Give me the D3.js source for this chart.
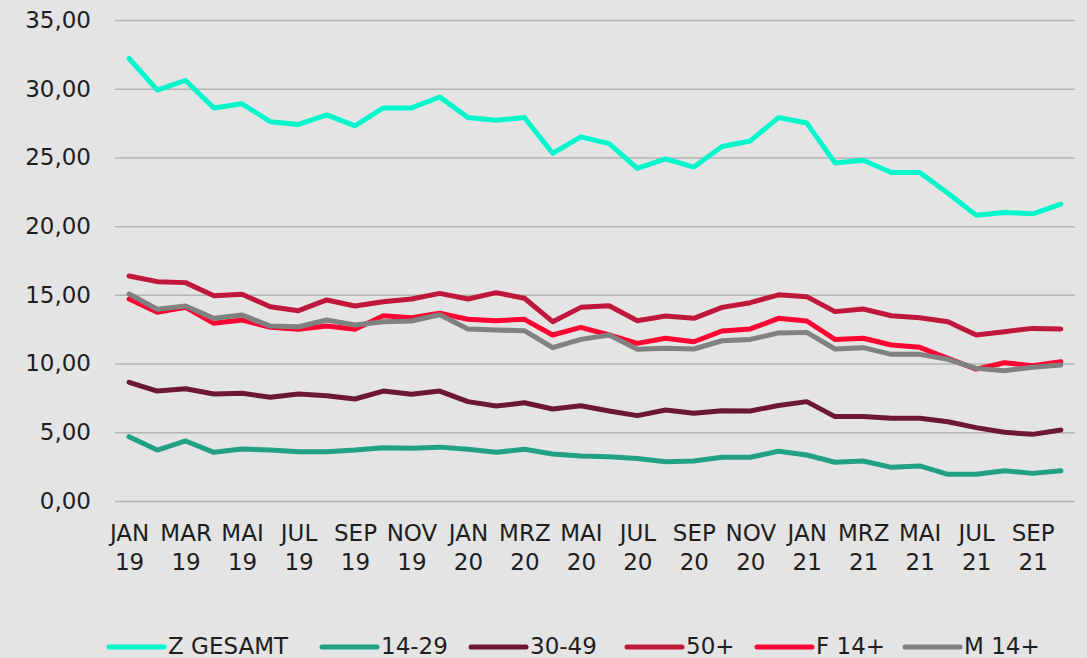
<!DOCTYPE html>
<html>
<head>
<meta charset="utf-8">
<script src="https://cdn.jsdelivr.net/npm/d3@7"></script>
<style>
  html, body { margin: 0; padding: 0; background: #e4e4e4; }
  svg { display: block; }
  svg text { font-family: "DejaVu Sans", sans-serif; }
</style>
</head>
<body>
<div id="chart"></div>
<script>
'use strict';

// Data
var months = ["JAN 19","FEB 19","MAR 19","APR 19","MAI 19","JUN 19","JUL 19","AUG 19","SEP 19","OKT 19","NOV 19","DEZ 19",
              "JAN 20","FEB 20","MRZ 20","APR 20","MAI 20","JUN 20","JUL 20","AUG 20","SEP 20","OKT 20","NOV 20","DEZ 20",
              "JAN 21","FEB 21","MRZ 21","APR 21","MAI 21","JUN 21","JUL 21","AUG 21","SEP 21","OKT 21"];

var seriesNames = ["Z GESAMT", "14-29", "30-49", "50+", "F 14+", "M 14+"];
var seriesColors = ["#03f7cc", "#21a086", "#6d1832", "#c0173c", "#ff0433", "#818181"];

var zGesamt = [32.2, 29.9, 30.6, 28.6, 28.9, 27.6, 27.4, 28.1, 27.3, 28.6, 28.6, 29.4,
               27.9, 27.7, 27.9, 25.3, 26.5, 26.0, 24.2, 24.9, 24.3, 25.8, 26.2, 27.9,
               27.5, 24.6, 24.8, 23.9, 23.9, 22.4, 20.8, 21.0, 20.9, 21.6];
var age1429 = [4.68, 3.71, 4.37, 3.54, 3.78, 3.71, 3.59, 3.59, 3.71, 3.88, 3.83, 3.92,
               3.76, 3.54, 3.76, 3.42, 3.27, 3.22, 3.10, 2.86, 2.91, 3.18, 3.18, 3.62,
               3.35, 2.82, 2.91, 2.45, 2.55, 1.94, 1.94, 2.20, 2.01, 2.20];
var age3049 = [8.64, 8.00, 8.17, 7.79, 7.84, 7.55, 7.79, 7.66, 7.42, 8.00, 7.76, 8.00,
               7.23, 6.91, 7.15, 6.69, 6.93, 6.55, 6.21, 6.62, 6.38, 6.57, 6.55, 6.95,
               7.23, 6.14, 6.14, 6.02, 6.02, 5.77, 5.34, 5.00, 4.85, 5.17];
var age50 =   [16.37, 15.96, 15.89, 14.94, 15.04, 14.14, 13.85, 14.63, 14.19, 14.50, 14.70, 15.11,
               14.70, 15.16, 14.75, 13.05, 14.09, 14.21, 13.12, 13.46, 13.29, 14.09, 14.43, 15.00,
               14.87, 13.78, 13.97, 13.48, 13.34, 13.05, 12.08, 12.32, 12.56, 12.52];
var female14 = [14.70, 13.73, 14.09, 12.93, 13.17, 12.64, 12.49, 12.73, 12.49, 13.48, 13.34, 13.66,
                13.22, 13.12, 13.22, 12.08, 12.64, 12.08, 11.47, 11.84, 11.59, 12.37, 12.52, 13.29,
                13.10, 11.76, 11.84, 11.35, 11.18, 10.38, 9.60, 10.06, 9.85, 10.14];
var male14 =  [15.06, 13.95, 14.19, 13.29, 13.53, 12.73, 12.68, 13.17, 12.81, 13.05, 13.10, 13.55,
               12.52, 12.44, 12.39, 11.16, 11.76, 12.08, 11.04, 11.11, 11.06, 11.66, 11.76, 12.23,
               12.27, 11.06, 11.16, 10.67, 10.67, 10.31, 9.65, 9.48, 9.73, 9.90];

var yTicks = [0, 5, 10, 15, 20, 25, 30, 35];

var allSeries = [zGesamt, age1429, age3049, age50, female14, male14];

// set up svg
var width = 1087, height = 658;
var plotLeft = 115, plotRight = 1075, plotTop = 20, plotBottom = 501;

var svg = d3.select("#chart")
	.append("svg")
	.attr("width", width)
	.attr("height", height);

svg.append("rect")
	.attr("width", width)
	.attr("height", height)
	.attr("fill", "#e4e4e4");

var x = d3.scalePoint()
	.domain(months)
	.range([plotLeft, plotRight])
	.padding(0.5);

var y = d3.scaleLinear()
	.domain([0, 35])
	.range([plotBottom, plotTop]);

var fmt = function(v) { return d3.format(".2f")(v).replace(".", ","); };

// y axis with gridlines
var yAxis = svg.append("g")
	.attr("transform", "translate(" + plotLeft + ",0)")
	.call(d3.axisLeft(y)
		.tickValues(yTicks)
		.tickSize(-(plotRight - plotLeft))
		.tickPadding(24)
		.tickFormat(fmt));

yAxis.select(".domain").remove();
yAxis.selectAll(".tick line")
	.attr("stroke", "#b4b4b4")
	.attr("stroke-width", 1.5);
yAxis.selectAll(".tick text")
	.attr("fill", "#1e1e1e")
	.style("font-size", "23px");

// x axis labels
var xAxis = svg.append("g")
	.attr("transform", "translate(0," + plotBottom + ")")
	.call(d3.axisBottom(x)
		.tickValues(months.filter(function(d, i) { return i % 2 === 0; }))
		.tickSize(0)
		.tickFormat(""));

xAxis.select(".domain").remove();
xAxis.selectAll(".tick").each(function(d) {
	var parts = d.split(" ");
	var t = d3.select(this).append("text")
		.attr("fill", "#1e1e1e")
		.attr("text-anchor", "middle")
		.style("font-size", "23px");
	t.append("tspan").attr("x", 0).attr("y", 40).text(parts[0]);
	t.append("tspan").attr("x", 0).attr("y", 69).text(parts[1]);
});

// lines
var line = d3.line()
	.x(function(d, i) { return x(months[i]); })
	.y(function(d) { return y(d); });

svg.append("g")
	.selectAll("path")
	.data(allSeries)
	.enter()
	.append("path")
		.attr("d", line)
		.attr("fill", "none")
		.attr("stroke", function(d, i) { return seriesColors[i]; })
		.attr("stroke-width", 5)
		.attr("stroke-linejoin", "round")
		.attr("stroke-linecap", "round");

// legend
var legendX = [109, 322, 471, 627, 757, 905];
var legend = svg.append("g")
	.selectAll("g")
	.data(seriesNames)
	.enter()
	.append("g")
		.attr("transform", function(d, i) { return "translate(" + legendX[i] + ",647)"; });

legend.append("line")
	.attr("x1", 0)
	.attr("x2", 55)
	.attr("stroke", function(d, i) { return seriesColors[i]; })
	.attr("stroke-width", 5)
	.attr("stroke-linecap", "round");

legend.append("text")
	.attr("x", 59)
	.attr("y", 7)
	.attr("fill", "#1e1e1e")
	.style("font-size", "23px")
	.text(function(d) { return d; });

</script>
</body>
</html>
